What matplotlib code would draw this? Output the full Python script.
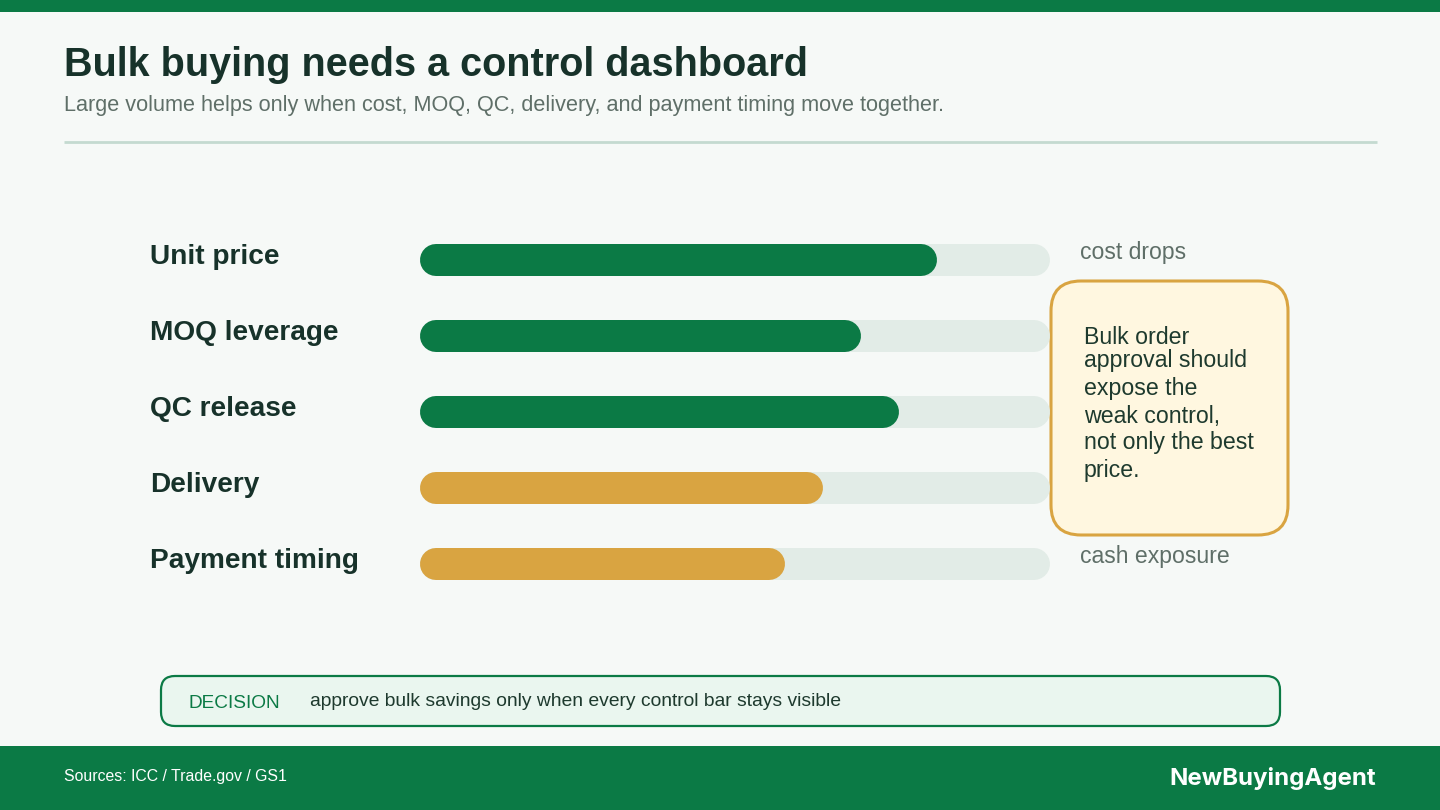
import matplotlib
matplotlib.use("Agg")
import matplotlib.pyplot as plt
from matplotlib.patches import FancyBboxPatch, Rectangle
from matplotlib.transforms import blended_transform_factory

plt.rcParams['font.family'] = ['Liberation Sans', 'DejaVu Sans']

# ---- data ----
categories = ["Unit price", "MOQ leverage", "QC release", "Delivery", "Payment timing"]
scores = [82, 70, 76, 64, 58]
bar_colors = ["#0B7A45", "#0B7A45", "#0B7A45", "#D9A441", "#D9A441"]
side_notes = {0: "cost drops", 4: "cash exposure"}
title = "Bulk buying needs a control dashboard"
subtitle = "Large volume helps only when cost, MOQ, QC, delivery, and payment timing move together."
callout_lines = ["Bulk order", "approval should", "expose the", "weak control,", "not only the best", "price."]
decision_tag = "DECISION"
decision_text = "approve bulk savings only when every control bar stays visible"
source_text = "Sources: ICC / Trade.gov / GS1"
brand = "NewBuyingAgent"

GREEN = "#0B7A45"
GOLD = "#D9A441"
TRACK = "#E2ECE7"
BG = "#F6F9F7"
DARK = "#17322A"
GRAY = "#5F6F68"

W, H = 1440, 810
fig = plt.figure(figsize=(W / 100, H / 100), dpi=100, facecolor=BG)

# background canvas in pixel coordinates
bg = fig.add_axes([0, 0, 1, 1])
bg.set_xlim(0, W)
bg.set_ylim(H, 0)
bg.axis("off")
bg.set_facecolor(BG)

bg.add_patch(Rectangle((0, 0), W, 12, color=GREEN, lw=0))
bg.add_patch(Rectangle((0, 746), W, 64, color=GREEN, lw=0))

bg.text(64, 65, title, fontsize=28.5, fontweight="bold", color=DARK, va="center", ha="left")
bg.text(64, 105, subtitle, fontsize=15.6, color=GRAY, va="center", ha="left")
bg.plot([64, 1377], [142, 142], color="#C4DAD0", lw=2, solid_capstyle="butt")

# callout box
bg.add_patch(FancyBboxPatch((1051 + 30, 281 + 30), 237 - 60, 254 - 60,
                            boxstyle="round,pad=30", fc="#FFF7E0", ec=GOLD, lw=2.2))
ys = [338, 361, 389, 416, 443, 470]
for line, y in zip(callout_lines, ys):
    bg.text(1084, y, line, fontsize=16.7, color="#1E3A2E", va="center", ha="left")

# decision box
bg.add_patch(FancyBboxPatch((161 + 14, 676 + 14), 1119 - 28, 50 - 28,
                            boxstyle="round,pad=14", fc="#EAF6EF", ec=GREEN, lw=1.6))
bg.text(188, 703, decision_tag, fontsize=13.7, color=GREEN, va="center", ha="left")
bg.text(310, 701, decision_text, fontsize=13.9, color="#1E3A2E", va="center", ha="left")

# footer
bg.text(64, 776, source_text, fontsize=11.4, color="white", va="center", ha="left")
bg.text(1376, 779, brand, fontsize=17.3, fontweight="bold", color="white", va="center",
        ha="right", family=["Inter", "DejaVu Sans"])

# bars axes
x0, x1 = 420, 1050
ytop, ybot = 222, 602
ax = fig.add_axes([x0 / W, 1 - ybot / H, (x1 - x0) / W, (ybot - ytop) / H])
ax.set_xlim(0, 100)
ax.set_ylim(len(categories) - 0.5, -0.5)
ax.axis("off")
ax.patch.set_alpha(0)

bar_px = 32
lw_pt = bar_px * 72 / 100
cap = (bar_px / 2) / ((x1 - x0) / 100)  # half bar height in data units
for i, (cat, v, c) in enumerate(zip(categories, scores, bar_colors)):
    ax.plot([cap, 100 - cap], [i, i], color=TRACK, lw=lw_pt, solid_capstyle="round", zorder=1)
    ax.plot([cap, v - cap], [i, i], color=c, lw=lw_pt, solid_capstyle="round", zorder=2)

tr_lab = blended_transform_factory(bg.transData, ax.transData)
for i, cat in enumerate(categories):
    ax.text(150, i - 0.04, cat, transform=tr_lab, fontsize=20.2, fontweight="bold",
            color=DARK, va="center", ha="left")
for i, note in side_notes.items():
    ax.text(1080, i - 0.1, note, transform=tr_lab, fontsize=16.6, color=GRAY,
            va="center", ha="left")

fig.savefig("out.png", dpi=100, facecolor=BG)
